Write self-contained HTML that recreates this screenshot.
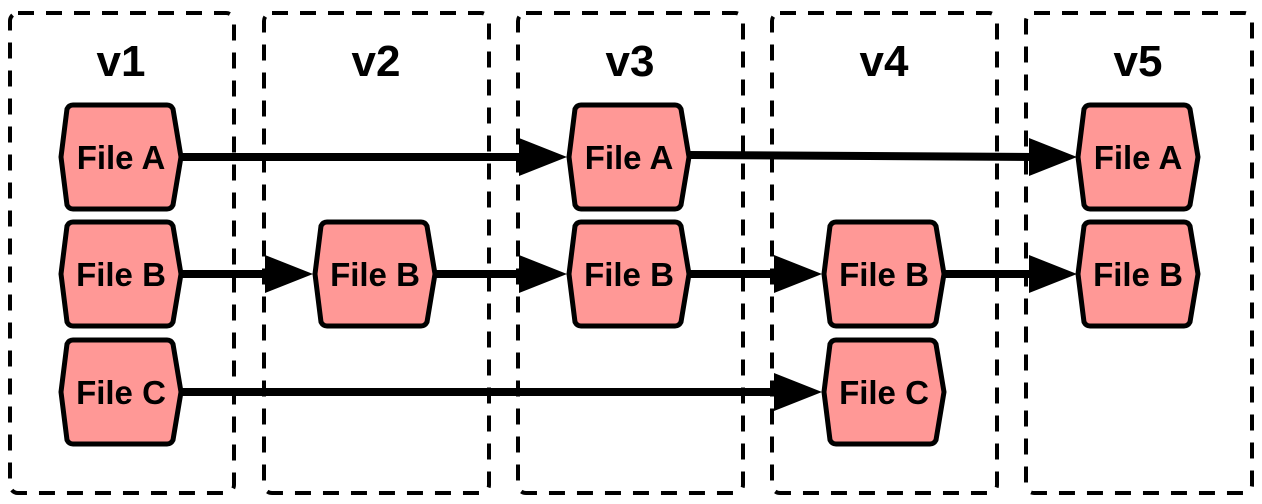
<!DOCTYPE html>
<html><head><meta charset="utf-8"><style>
html,body{margin:0;padding:0;background:#fff;width:1262px;height:504px;overflow:hidden}
text{font-family:"Liberation Sans Narrow","Liberation Sans",sans-serif;font-weight:bold}
</style></head><body>
<svg width="1262" height="504" viewBox="0 0 1262 504" xmlns="http://www.w3.org/2000/svg">
<defs>
<g id="hex"><path d="M-48,-52 L46,-52 Q50,-52 52,-48 L60,0 L52,48 Q50,52 46,52 L-48,52 Q-52,52 -54,48 L-60,0 L-54,-48 Q-52,-52 -48,-52 Z" fill="#ff9896" stroke="#000" stroke-width="5" stroke-linejoin="round"/></g>
</defs>
<g fill="none" stroke="#000" stroke-width="4" stroke-dasharray="16,12">
<rect x="10" y="13" width="224" height="480" rx="8"/>
<rect x="264" y="13" width="225" height="480" rx="8"/>
<rect x="518" y="13" width="225" height="480" rx="8"/>
<rect x="772" y="13" width="225" height="480" rx="8"/>
<rect x="1026" y="13" width="226" height="480" rx="8"/>
</g>
<g font-size="44" text-anchor="middle">
<text x="121" y="76">v1</text><text x="376" y="76">v2</text><text x="630" y="76">v3</text><text x="884" y="76">v4</text><text x="1138" y="76">v5</text>
</g>
<g stroke="#000" stroke-width="8">
<line x1="180" y1="157" x2="525" y2="157"/>
<line x1="689" y1="155" x2="1035" y2="157"/>
<line x1="180" y1="274" x2="275" y2="274"/>
<line x1="434" y1="274" x2="528" y2="274"/>
<line x1="689" y1="274" x2="783" y2="274"/>
<line x1="943" y1="274" x2="1037" y2="274"/>
<line x1="180" y1="392" x2="783" y2="392"/>
</g>
<g fill="#000">
<path d="M519,138 L567,157 L519,176 Z"/>
<path d="M1029,138 L1077,157 L1029,176 Z"/>
<path d="M265,255 L313,274 L265,293 Z"/>
<path d="M519,255 L567,274 L519,293 Z"/>
<path d="M774,255 L822,274 L774,293 Z"/>
<path d="M1029,255 L1077,274 L1029,293 Z"/>
<path d="M774,373 L822,392 L774,411 Z"/>
</g>
<g font-size="33" text-anchor="middle">
<use href="#hex" x="121" y="157"/><text x="121" y="169">File A</text>
<use href="#hex" x="121" y="274"/><text x="121" y="286">File B</text>
<use href="#hex" x="121" y="392"/><text x="121" y="404">File C</text>
<use href="#hex" x="375" y="274"/><text x="375" y="286">File B</text>
<use href="#hex" x="629" y="157"/><text x="629" y="169">File A</text>
<use href="#hex" x="629" y="274"/><text x="629" y="286">File B</text>
<use href="#hex" x="884" y="274"/><text x="884" y="286">File B</text>
<use href="#hex" x="884" y="392"/><text x="884" y="404">File C</text>
<use href="#hex" x="1138" y="157"/><text x="1138" y="169">File A</text>
<use href="#hex" x="1138" y="274"/><text x="1138" y="286">File B</text>
</g>
</svg>
</body></html>
